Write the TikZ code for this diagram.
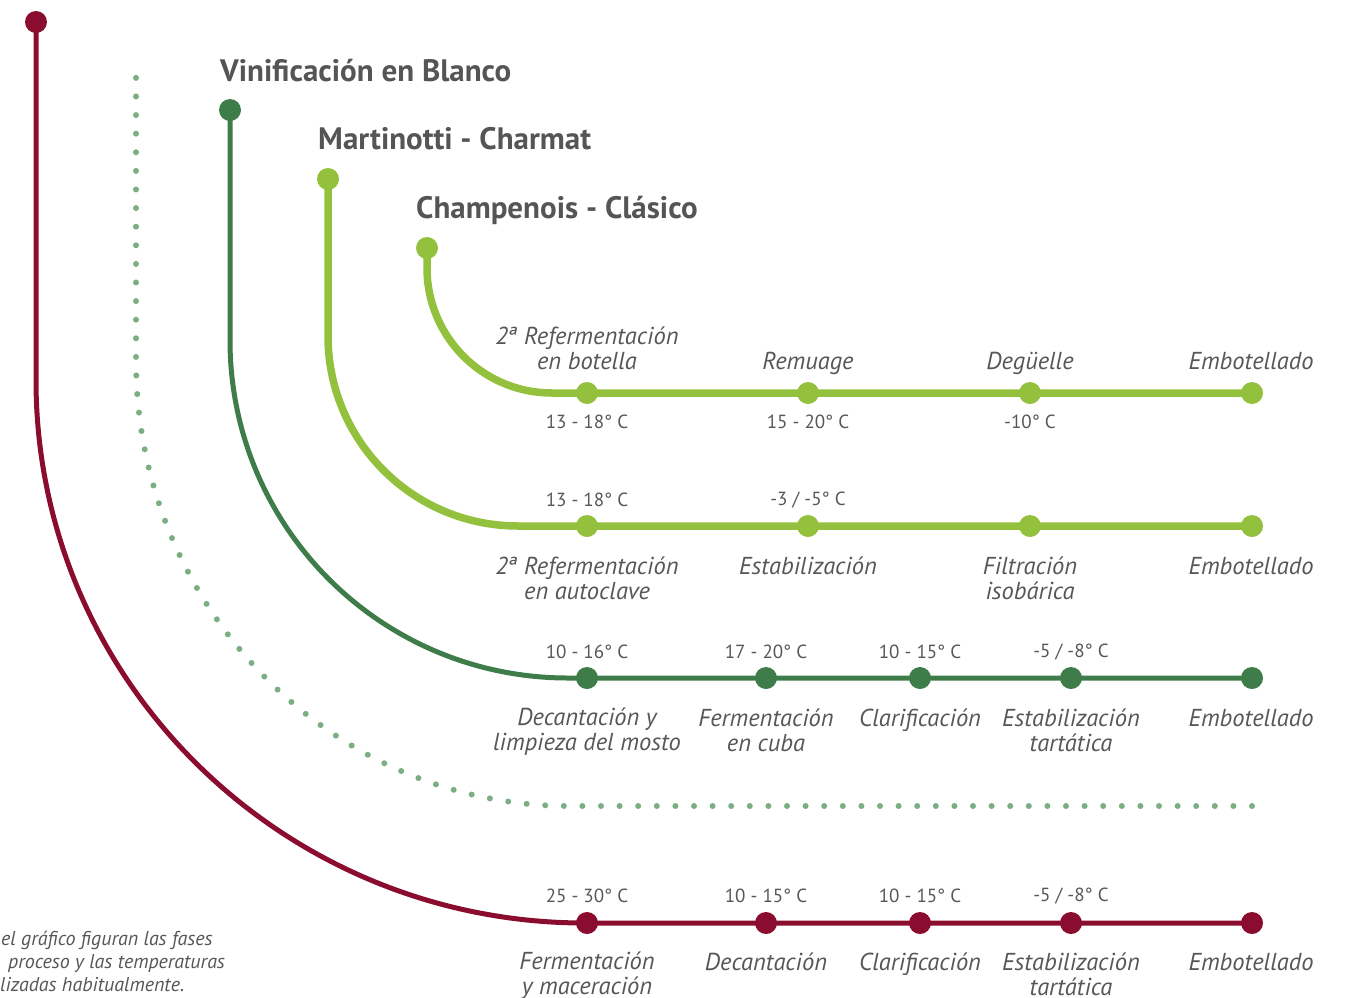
\documentclass[tikz,border=0pt]{standalone}
\usepackage{fontspec}
\setmainfont{PT Sans}
\usetikzlibrary{backgrounds}
\definecolor{wine}{HTML}{8A0C2E}
\definecolor{dgreen}{HTML}{3E7D4A}
\definecolor{lgreen}{HTML}{93C13D}
\definecolor{dotgreen}{HTML}{7BAE83}
\definecolor{tgrey}{HTML}{575757}
\definecolor{ttlgrey}{HTML}{555555}
\tikzset{
  dotbase/.style={circle, inner sep=0pt, minimum size=22pt},
  dotR/.style={dotbase, fill=wine},
  dotD/.style={dotbase, fill=dgreen},
  dotL/.style={dotbase, fill=lgreen},
  lineR/.style={draw=wine, line width=5pt},
  lineD/.style={draw=dgreen, line width=5pt},
  lineL/.style={draw=lgreen, line width=7.5pt},
  lineDot/.style={draw=dotgreen, line width=6pt, line cap=round, dash pattern=on 0pt off 18.6pt},
  lab/.style={font=\fontsize{24.5}{25}\selectfont\itshape, text=tgrey, align=center, inner sep=0pt},
  labS/.style={lab, anchor=base},
  tmp/.style={font=\fontsize{19}{22}\selectfont, text=tgrey, inner sep=0pt},
  ttl/.style={font=\fontsize{31}{34}\selectfont\bfseries, text=ttlgrey, anchor=base west, inner sep=0pt},
  note/.style={font=\fontsize{20}{23}\selectfont\itshape, text=tgrey, anchor=base west, inner sep=0pt}
}
\begin{document}
\begin{tikzpicture}[x=1pt,y=-1pt]
\useasboundingbox (0,0) rectangle (1350,997);

% titles
\node[ttl] (tV) at (220,81) {Vinificación en Blanco};
\node[ttl] (tM) at (318,149) {Martinotti - Charmat};
\node[ttl] (tC) at (416,218) {Champenois - Clásico};

% Champenois
\node[dotL] (c0) at (427,248) {};
\node[dotL] (c1) at (587,393) {};
\node[dotL] (c2) at (808,393) {};
\node[dotL] (c3) at (1030,393) {};
\node[dotL] (c4) at (1252,393) {};
\coordinate (cb) at (427,268);
\coordinate (ce) at (552,393);
% Martinotti
\node[dotL] (m0) at (328,179) {};
\node[dotL] (m1) at (587,526) {};
\node[dotL] (m2) at (808,526) {};
\node[dotL] (m3) at (1030,526) {};
\node[dotL] (m4) at (1252,526) {};
\coordinate (mb) at (328,336);
\coordinate (me) at (518,526);
% Vinificacion en blanco
\node[dotD] (v0) at (230,110) {};
\node[dotD] (v1) at (587,678) {};
\node[dotD] (v2) at (766,678) {};
\node[dotD] (v3) at (920,678) {};
\node[dotD] (v4) at (1071,678) {};
\node[dotD] (v5) at (1252,678) {};
\coordinate (vb) at (230,340);
\coordinate (ve) at (568,678);
% dotted
\coordinate (d0) at (136,68);
\coordinate (db) at (136,360);
\coordinate (de) at (570,806);
\coordinate (d1) at (1252,806);
% red
\node[dotR] (r0) at (36,22) {};
\node[dotR] (r1) at (587,923) {};
\node[dotR] (r2) at (766,923) {};
\node[dotR] (r3) at (920,923) {};
\node[dotR] (r4) at (1071,923) {};
\node[dotR] (r5) at (1252,923) {};
\coordinate (rb) at (36,380);
\coordinate (re) at (585,923);

\begin{scope}[on background layer]
\draw[lineL] (c0.center) -- (cb) .. controls (427,337) and (483,393) .. (ce) -- (c1.center) -- (c4.center);
\draw[lineL] (m0.center) -- (mb) .. controls (328,441) and (413,526) .. (me) -- (m1.center) -- (m4.center);
\draw[lineD] (v0.center) -- (vb) .. controls (230,527) and (381,678) .. (ve) -- (v1.center) -- (v5.center);
\draw[lineDot] (d1) -- (de) .. controls (330,806) and (136,606) .. (db) -- (d0);
\draw[lineR] (r0.center) -- (rb) .. controls (36,680) and (282,923) .. (re) -- (r1.center) -- (r5.center);
\end{scope}

% Champenois labels
\node[lab] (lc1) at (587,348.5) {2ª Refermentación\\en botella};
\node[labS] (lc2) at (808,369.5) {Remuage};
\node[labS] (lc3) at (1030,369.5) {Degüelle};
\node[labS] (lc4) at (1251,369.5) {Embotellado};
\node[tmp] (tc1) at (587,422) {13 - 18° C};
\node[tmp] (tc2) at (808,422) {15 - 20° C};
\node[tmp] (tc3) at (1030,422) {-10° C};

% Martinotti labels
\node[tmp] (tm1) at (587,500) {13 - 18° C};
\node[tmp] (tm2) at (808,500) {-3 / -5° C};
\node[lab] (lm1) at (587,578.5) {2ª Refermentación\\en autoclave};
\node[labS] (lm2) at (808,574.5) {Estabilización};
\node[lab] (lm3) at (1030,578.5) {Filtración\\isobárica};
\node[labS] (lm4) at (1251,574.5) {Embotellado};

% Vinificacion labels
\node[tmp] (tv1) at (587,652) {10 - 16° C};
\node[tmp] (tv2) at (766,652) {17 - 20° C};
\node[tmp] (tv3) at (920,652) {10 - 15° C};
\node[tmp] (tv4) at (1071,652) {-5 / -8° C};
\node[lab] (lv1) at (587,731.5) {Decantación y\\limpieza del mosto};
\node[lab] (lv2) at (766,730.5) {Fermentación\\en cuba};
\node[labS] (lv3) at (920,726.5) {Clarificación};
\node[lab] (lv4) at (1071,730.5) {Estabilización\\tartática};
\node[labS] (lv5) at (1251,726.5) {Embotellado};

% Red labels
\node[tmp] (tr1) at (587,896) {25 - 30° C};
\node[tmp] (tr2) at (766,896) {10 - 15° C};
\node[tmp] (tr3) at (920,896) {10 - 15° C};
\node[tmp] (tr4) at (1071,896) {-5 / -8° C};
\node[lab] (lr1) at (587,975.5) {Fermentación\\y maceración};
\node[labS] (lr2) at (766,970.5) {Decantación};
\node[labS] (lr3) at (920,970.5) {Clarificación};
\node[lab] (lr4) at (1071,974.5) {Estabilización\\tartática};
\node[labS] (lr5) at (1251,970.5) {Embotellado};

% note
\node[note] (n1) at (1,945) {el gráfico figuran las fases};
\node[note] (n2) at (8,968) {proceso y las temperaturas};
\node[note] (n3) at (0,991) {lizadas habitualmente.};
\end{tikzpicture}
\end{document}
